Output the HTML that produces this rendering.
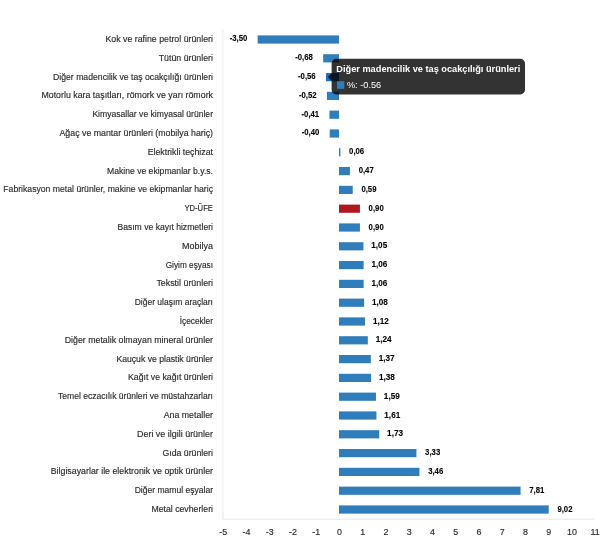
<!DOCTYPE html>
<html lang="tr"><head><meta charset="utf-8"><title>YD-ÜFE</title>
<style>
html,body{margin:0;padding:0;background:#fff}
svg{display:block}
.cat{font-family:"Liberation Sans",sans-serif;font-size:9.2px;fill:#2a2a2a;stroke:#2a2a2a;stroke-width:0.15px;text-anchor:end}
.val{font-family:"Liberation Sans",sans-serif;font-size:8.5px;font-weight:bold;fill:#000;stroke:#000;stroke-width:0.1px}
.tick{font-family:"Liberation Sans",sans-serif;font-size:8.9px;fill:#2a2a2a;stroke:#2a2a2a;stroke-width:0.15px;text-anchor:middle}
.tt{font-family:"Liberation Sans",sans-serif;font-size:9.23px;fill:#fff}
</style></head><body>
<svg width="600" height="540" viewBox="0 0 600 540">
<rect width="600" height="540" fill="#fff"/>

<rect x="222.25" y="29.4" width="1.4" height="490.6" fill="#eeeeee"/>
<rect x="222.25" y="518.6" width="372.6" height="1.4" fill="#eeeeee"/>
<rect x="257.62" y="35.40" width="81.38" height="8.2" fill="#2f7dbb"/>
<text class="cat" x="213" y="41.95" textLength="107.6" lengthAdjust="spacingAndGlyphs">Kok ve rafine petrol ürünleri</text>
<text class="val" x="247.32" y="41.40" text-anchor="end" textLength="17.66" lengthAdjust="spacingAndGlyphs">-3,50</text>
<rect x="323.19" y="54.20" width="15.81" height="8.2" fill="#2f7dbb"/>
<text class="cat" x="213" y="60.75" textLength="54.3" lengthAdjust="spacingAndGlyphs">Tütün ürünleri</text>
<text class="val" x="312.89" y="60.20" text-anchor="end" textLength="17.66" lengthAdjust="spacingAndGlyphs">-0,68</text>
<rect x="325.98" y="73.00" width="13.02" height="8.2" fill="#1673c8"/>
<text class="cat" x="213" y="79.55" textLength="160.0" lengthAdjust="spacingAndGlyphs">Diğer madencilik ve taş ocakçılığı ürünleri</text>
<text class="val" x="315.68" y="79.00" text-anchor="end" textLength="17.66" lengthAdjust="spacingAndGlyphs">-0,56</text>
<rect x="326.91" y="91.80" width="12.09" height="8.2" fill="#2f7dbb"/>
<text class="cat" x="213" y="98.35" textLength="171.6" lengthAdjust="spacingAndGlyphs">Motorlu kara taşıtları, römork ve yarı römork</text>
<text class="val" x="316.61" y="97.80" text-anchor="end" textLength="17.66" lengthAdjust="spacingAndGlyphs">-0,52</text>
<rect x="329.47" y="110.60" width="9.53" height="8.2" fill="#2f7dbb"/>
<text class="cat" x="213" y="117.15" textLength="120.6" lengthAdjust="spacingAndGlyphs">Kimyasallar ve kimyasal ürünler</text>
<text class="val" x="319.17" y="116.60" text-anchor="end" textLength="17.66" lengthAdjust="spacingAndGlyphs">-0,41</text>
<rect x="329.70" y="129.40" width="9.30" height="8.2" fill="#2f7dbb"/>
<text class="cat" x="213" y="135.95" textLength="153.5" lengthAdjust="spacingAndGlyphs">Ağaç ve mantar ürünleri (mobilya hariç)</text>
<text class="val" x="319.40" y="135.40" text-anchor="end" textLength="17.66" lengthAdjust="spacingAndGlyphs">-0,40</text>
<rect x="339.00" y="148.20" width="1.40" height="8.2" fill="#2f7dbb"/>
<text class="cat" x="213" y="154.75" textLength="65.3" lengthAdjust="spacingAndGlyphs">Elektrikli teçhizat</text>
<text class="val" x="349.09" y="154.30" textLength="15.08" lengthAdjust="spacingAndGlyphs">0,06</text>
<rect x="339.00" y="167.00" width="10.93" height="8.2" fill="#2f7dbb"/>
<text class="cat" x="213" y="173.55" textLength="106.0" lengthAdjust="spacingAndGlyphs">Makine ve ekipmanlar b.y.s.</text>
<text class="val" x="358.63" y="173.10" textLength="15.08" lengthAdjust="spacingAndGlyphs">0,47</text>
<rect x="339.00" y="185.80" width="13.72" height="8.2" fill="#2f7dbb"/>
<text class="cat" x="213" y="192.35" textLength="209.7" lengthAdjust="spacingAndGlyphs">Fabrikasyon metal ürünler, makine ve ekipmanlar hariç</text>
<text class="val" x="361.42" y="191.90" textLength="15.08" lengthAdjust="spacingAndGlyphs">0,59</text>
<rect x="339.00" y="204.60" width="20.93" height="8.2" fill="#b0181f"/>
<text class="cat" x="213" y="211.15" textLength="28.6" lengthAdjust="spacingAndGlyphs">YD-ÜFE</text>
<text class="val" x="368.62" y="210.70" textLength="15.08" lengthAdjust="spacingAndGlyphs">0,90</text>
<rect x="339.00" y="223.40" width="20.93" height="8.2" fill="#2f7dbb"/>
<text class="cat" x="213" y="229.95" textLength="95.6" lengthAdjust="spacingAndGlyphs">Basım ve kayıt hizmetleri</text>
<text class="val" x="368.62" y="229.50" textLength="15.08" lengthAdjust="spacingAndGlyphs">0,90</text>
<rect x="339.00" y="242.20" width="24.41" height="8.2" fill="#2f7dbb"/>
<text class="cat" x="213" y="248.75" textLength="31.0" lengthAdjust="spacingAndGlyphs">Mobilya</text>
<text class="val" x="371.31" y="248.30" textLength="15.88" lengthAdjust="spacingAndGlyphs">1,05</text>
<rect x="339.00" y="261.00" width="24.64" height="8.2" fill="#2f7dbb"/>
<text class="cat" x="213" y="267.55" textLength="47.3" lengthAdjust="spacingAndGlyphs">Giyim eşyası</text>
<text class="val" x="371.54" y="267.10" textLength="15.88" lengthAdjust="spacingAndGlyphs">1,06</text>
<rect x="339.00" y="279.80" width="24.64" height="8.2" fill="#2f7dbb"/>
<text class="cat" x="213" y="286.35" textLength="56.6" lengthAdjust="spacingAndGlyphs">Tekstil ürünleri</text>
<text class="val" x="371.54" y="285.90" textLength="15.88" lengthAdjust="spacingAndGlyphs">1,06</text>
<rect x="339.00" y="298.60" width="25.11" height="8.2" fill="#2f7dbb"/>
<text class="cat" x="213" y="305.15" textLength="78.3" lengthAdjust="spacingAndGlyphs">Diğer ulaşım araçları</text>
<text class="val" x="372.01" y="304.70" textLength="15.88" lengthAdjust="spacingAndGlyphs">1,08</text>
<rect x="339.00" y="317.40" width="26.04" height="8.2" fill="#2f7dbb"/>
<text class="cat" x="213" y="323.95" textLength="33.3" lengthAdjust="spacingAndGlyphs">İçecekler</text>
<text class="val" x="372.94" y="323.50" textLength="15.88" lengthAdjust="spacingAndGlyphs">1,12</text>
<rect x="339.00" y="336.20" width="28.83" height="8.2" fill="#2f7dbb"/>
<text class="cat" x="213" y="342.75" textLength="148.3" lengthAdjust="spacingAndGlyphs">Diğer metalik olmayan mineral ürünler</text>
<text class="val" x="375.73" y="342.30" textLength="15.88" lengthAdjust="spacingAndGlyphs">1,24</text>
<rect x="339.00" y="355.00" width="31.85" height="8.2" fill="#2f7dbb"/>
<text class="cat" x="213" y="361.55" textLength="96.6" lengthAdjust="spacingAndGlyphs">Kauçuk ve plastik ürünler</text>
<text class="val" x="378.75" y="361.10" textLength="15.88" lengthAdjust="spacingAndGlyphs">1,37</text>
<rect x="339.00" y="373.80" width="32.09" height="8.2" fill="#2f7dbb"/>
<text class="cat" x="213" y="380.35" textLength="85.0" lengthAdjust="spacingAndGlyphs">Kağıt ve kağıt ürünleri</text>
<text class="val" x="378.98" y="379.90" textLength="15.88" lengthAdjust="spacingAndGlyphs">1,38</text>
<rect x="339.00" y="392.60" width="36.97" height="8.2" fill="#2f7dbb"/>
<text class="cat" x="213" y="399.15" textLength="155.0" lengthAdjust="spacingAndGlyphs">Temel eczacılık ürünleri ve müstahzarları</text>
<text class="val" x="383.87" y="398.70" textLength="15.88" lengthAdjust="spacingAndGlyphs">1,59</text>
<rect x="339.00" y="411.40" width="37.43" height="8.2" fill="#2f7dbb"/>
<text class="cat" x="213" y="417.95" textLength="49.3" lengthAdjust="spacingAndGlyphs">Ana metaller</text>
<text class="val" x="384.33" y="417.50" textLength="15.88" lengthAdjust="spacingAndGlyphs">1,61</text>
<rect x="339.00" y="430.20" width="40.22" height="8.2" fill="#2f7dbb"/>
<text class="cat" x="213" y="436.75" textLength="76.0" lengthAdjust="spacingAndGlyphs">Deri ve ilgili ürünler</text>
<text class="val" x="387.12" y="436.30" textLength="15.88" lengthAdjust="spacingAndGlyphs">1,73</text>
<rect x="339.00" y="449.00" width="77.42" height="8.2" fill="#2f7dbb"/>
<text class="cat" x="213" y="455.55" textLength="50.6" lengthAdjust="spacingAndGlyphs">Gıda ürünleri</text>
<text class="val" x="425.12" y="455.10" textLength="15.08" lengthAdjust="spacingAndGlyphs">3,33</text>
<rect x="339.00" y="467.80" width="80.44" height="8.2" fill="#2f7dbb"/>
<text class="cat" x="213" y="474.35" textLength="162.3" lengthAdjust="spacingAndGlyphs">Bilgisayarlar ile elektronik ve optik ürünler</text>
<text class="val" x="428.14" y="473.90" textLength="15.08" lengthAdjust="spacingAndGlyphs">3,46</text>
<rect x="339.00" y="486.60" width="181.58" height="8.2" fill="#2f7dbb"/>
<text class="cat" x="213" y="493.15" textLength="78.3" lengthAdjust="spacingAndGlyphs">Diğer mamul eşyalar</text>
<text class="val" x="529.28" y="492.70" textLength="15.08" lengthAdjust="spacingAndGlyphs">7,81</text>
<rect x="339.00" y="505.40" width="209.72" height="8.2" fill="#2f7dbb"/>
<text class="cat" x="213" y="511.95" textLength="61.6" lengthAdjust="spacingAndGlyphs">Metal cevherleri</text>
<text class="val" x="557.42" y="511.50" textLength="15.08" lengthAdjust="spacingAndGlyphs">9,02</text>
<text class="tick" x="223.15" y="534.9">-5</text>
<text class="tick" x="246.40" y="534.9">-4</text>
<text class="tick" x="269.65" y="534.9">-3</text>
<text class="tick" x="292.90" y="534.9">-2</text>
<text class="tick" x="316.15" y="534.9">-1</text>
<text class="tick" x="339.40" y="534.9">0</text>
<text class="tick" x="362.65" y="534.9">1</text>
<text class="tick" x="385.90" y="534.9">2</text>
<text class="tick" x="409.15" y="534.9">3</text>
<text class="tick" x="432.40" y="534.9">4</text>
<text class="tick" x="455.65" y="534.9">5</text>
<text class="tick" x="478.90" y="534.9">6</text>
<text class="tick" x="502.15" y="534.9">7</text>
<text class="tick" x="525.40" y="534.9">8</text>
<text class="tick" x="548.65" y="534.9">9</text>
<text class="tick" x="571.90" y="534.9">10</text>
<text class="tick" x="595.15" y="534.9">11</text>
<g>
<path d="M336.2 58.8 H520.4 A4.6 4.6 0 0 1 525 63.4 V89.8 A4.6 4.6 0 0 1 520.4 94.4 H336.2 A4.6 4.6 0 0 1 331.6 89.8 V80.9 L327.8 77.1 L331.6 73.3 V63.4 A4.6 4.6 0 0 1 336.2 58.8 Z" fill="rgba(0,0,0,0.8)"/>
<text class="tt" x="336.3" y="71.6" font-weight="bold">Diğer madencilik ve taş ocakçılığı ürünleri</text>
<rect x="337" y="81.2" width="7.3" height="7.7" fill="#2f7dbb"/>
<text class="tt" x="346.9" y="87.7">%: -0.56</text>
</g>
</svg></body></html>
